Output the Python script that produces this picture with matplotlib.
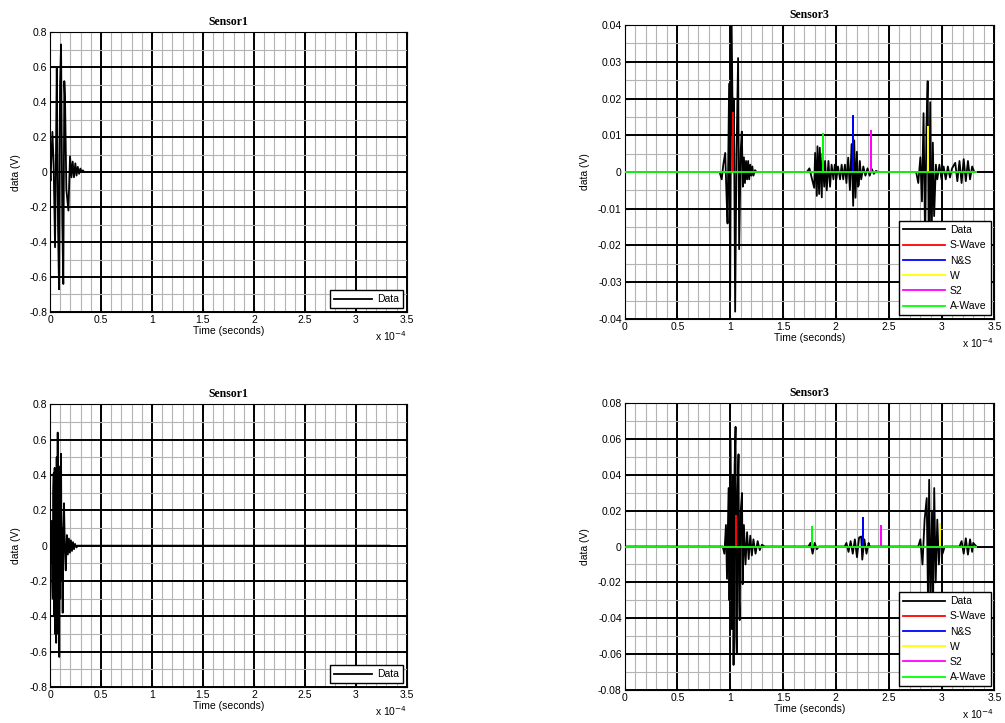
import numpy as np
import matplotlib.pyplot as plt
from matplotlib.ticker import MultipleLocator, FormatStrFormatter
plt.switch_backend('agg')

plt.rcParams['font.family'] = ['Liberation Sans', 'DejaVu Sans']
plt.rcParams['font.size'] = 7.5

# time axis is in units of 1e-4 s, values in volts
t_end = 3.33

# Sensor1, first run
s1a_t = [0, 0.005, 0.023, 0.035, 0.049, 0.058, 0.066, 0.078, 0.088, 0.098, 0.108, 0.12,
         0.13, 0.14, 0.147, 0.16, 0.18, 0.196, 0.21, 0.222, 0.235, 0.248, 0.26, 0.272,
         0.285, 0.298, 0.31, 0.322, 0.335, t_end]
s1a_v = [0, -0.05, 0.23, 0.05, -0.43, 0.1, 0.6, -0.3, -0.67, 0.5, 0.73, -0.27,
         -0.64, 0.52, 0.42, -0.1, -0.22, 0.09, -0.03, 0.06, -0.03, 0.05, -0.02, 0.03,
         -0.01, 0.02, 0.0, 0.01, 0.0, 0.0]

# Sensor1, second run
s1b_t = [0, 0.005, 0.01, 0.016, 0.021, 0.026, 0.031, 0.036, 0.041, 0.045, 0.05, 0.055,
         0.06, 0.065, 0.07, 0.075, 0.08, 0.085, 0.09, 0.095, 0.1, 0.104, 0.108, 0.113,
         0.118, 0.124, 0.13, 0.137, 0.145, 0.154, 0.165, 0.175, 0.185, 0.195, 0.205,
         0.215, 0.225, 0.235, 0.245, 0.26, 0.27, t_end]
s1b_v = [0, -0.1, 0.12, 0.14, -0.2, -0.3, 0.3, 0.41, -0.4, 0.44, -0.5, 0.3,
         -0.55, 0.5, -0.35, 0.64, -0.5, 0.45, -0.63, 0.3, -0.3, 0.35, 0.52, -0.2,
         0.1, -0.38, 0.1, 0.24, -0.02, -0.14, 0.06, -0.05, 0.04, -0.04, 0.03,
         -0.03, 0.02, -0.02, 0.01, -0.01, 0, 0]

# Sensor3, first run
s3a_t = [0, 0.9, 0.92, 0.935, 0.953, 0.965, 0.975, 0.99, 1.0, 1.012, 1.025, 1.035,
         1.047, 1.06, 1.075, 1.085, 1.1, 1.11, 1.12, 1.13, 1.14, 1.15, 1.16, 1.17,
         1.18, 1.19, 1.2, 1.21, 1.22, 1.235, 1.25,
         1.726, 1.75, 1.775, 1.795, 1.804, 1.82, 1.826, 1.842, 1.848, 1.867, 1.873,
         1.89, 1.898, 1.914, 1.93, 1.945, 1.96, 1.977, 1.99, 2.005, 2.02, 2.04, 2.055,
         2.07, 2.086, 2.1, 2.117, 2.133, 2.149, 2.164, 2.174, 2.186, 2.199, 2.21, 2.218,
         2.227, 2.24, 2.26, 2.28, 2.3, 2.32, 2.34, 2.36, 2.38, 2.4,
         2.76, 2.78, 2.8, 2.815, 2.83, 2.845, 2.857, 2.869, 2.88, 2.893, 2.905, 2.918,
         2.93, 2.947, 2.96, 2.98, 3.0, 3.02, 3.04, 3.06, 3.08, 3.1, 3.13, 3.15, 3.17,
         3.19, 3.21, 3.23, 3.25, 3.27, 3.29, 3.31, t_end]
s3a_v = [0, 0, -0.002, 0.002, 0.0052, -0.006, -0.014, 0.024, -0.034, 0.045, 0.01, 0.02,
         -0.038, 0.005, 0.031, -0.021, 0.006, 0.011, -0.004, 0.004, -0.003, 0.003, -0.002, 0.003,
         -0.002, 0.002, -0.001, 0.0015, -0.001, 0.0005, 0,
         0, 0.001, -0.002, -0.0043, 0.0052, -0.0065, 0.007, -0.006, 0.0066, -0.0069, 0.005,
         -0.004, 0.003, -0.005, 0.003, -0.004, 0.002, -0.002, 0.002, -0.002, 0.0015, -0.002, 0.002,
         -0.002, 0.002, -0.003, 0.0039, -0.0049, 0.0076, -0.0092, 0.0086, -0.007, 0.0055, -0.004, -0.0035,
         0.003, -0.002, 0.0015, -0.001, 0.001, -0.001, 0.0008, -0.0005, 0.0003, 0,
         0, -0.003, 0.004, -0.008, 0.016, -0.02, 0.012, 0.0247, -0.025, 0.019, -0.022, 0.008,
         -0.012, 0.002, -0.002, 0.002, -0.002, 0.0015, -0.002, 0.0015, -0.0015, 0.001, 0.0025, -0.0025,
         0.003, -0.003, 0.0035, -0.0025, 0.003, -0.002, 0.0015, 0, 0]

# Sensor3, second run
s3b_t = [0, 0.93, 0.945, 0.96, 0.97, 0.985, 0.993, 1.004, 1.015, 1.025, 1.032, 1.042,
         1.051, 1.057, 1.063, 1.07, 1.079, 1.085, 1.09, 1.1, 1.112, 1.118, 1.13, 1.145,
         1.16, 1.175, 1.19, 1.205, 1.22, 1.24, 1.26, 1.28, 1.3, 1.326,
         1.74, 1.76, 1.78, 1.8, 1.82, 1.84,
         2.084, 2.1, 2.12, 2.14, 2.16, 2.18, 2.2, 2.22, 2.24, 2.25, 2.27, 2.29, 2.31, 2.32,
         2.78, 2.8, 2.82, 2.84, 2.86, 2.872, 2.883, 2.895, 2.91, 2.92, 2.931, 2.945,
         2.96, 2.975, 2.99, 3.01, 3.03,
         3.17, 3.19, 3.21, 3.23, 3.25, 3.27, 3.29, 3.3, t_end]
s3b_v = [0, 0, -0.004, 0.012, -0.018, 0.0326, -0.03, 0.0598, -0.046, 0.04, -0.066, 0.045,
         0.0667, -0.05, -0.06, 0.03, 0.0514, -0.03, -0.041, 0.02, 0.0298, -0.021, 0.012, -0.01,
         0.008, -0.007, 0.006, -0.005, 0.004, -0.004, 0.003, -0.002, 0.001, 0,
         0, 0.002, -0.004, 0.002, -0.0015, 0,
         0, 0.002, -0.003, 0.003, -0.004, 0.004, -0.006, 0.005, 0.0056, -0.0073, 0.004, -0.004, 0.002, 0,
         0, 0.004, -0.01, 0.015, 0.027, -0.03, 0.0372, -0.035, 0.02, -0.033, 0.0326, -0.02,
         0.015, -0.01, 0.006, -0.004, 0,
         0, 0.003, -0.004, 0.0046, -0.0045, 0.004, -0.003, 0.002, 0]

# arrival markers: S-Wave, N&S, W, S2, A-Wave
mark_names = ['S-Wave', 'N&S', 'W', 'S2', 'A-Wave']
mark_colors = ['#ff0000', '#0000ff', '#ffff00', '#ff00ff', '#00ff00']
s3a_mark_t = [1.031, 2.167, 2.869, 2.33, 1.88]
s3a_mark_v = [0.0161, 0.0152, 0.0122, 0.0111, 0.0103]
s3b_mark_t = [1.051, 2.255, 2.99, 2.425, 1.771]
s3b_mark_v = [0.0168, 0.0158, 0.0125, 0.0117, 0.0106]


def style_axes(ax, ylim, ymajor, yminor, title):
    ax.set_xlim(0, 3.5)
    ax.set_ylim(*ylim)
    ax.xaxis.set_major_locator(MultipleLocator(0.5))
    ax.xaxis.set_minor_locator(MultipleLocator(0.1))
    ax.xaxis.set_major_formatter(FormatStrFormatter('%g'))
    ax.yaxis.set_major_locator(MultipleLocator(ymajor))
    ax.yaxis.set_minor_locator(MultipleLocator(yminor))
    ax.yaxis.set_major_formatter(FormatStrFormatter('%g'))
    ax.grid(which='minor', color='#b4b4b4', lw=0.8, zorder=0)
    ax.grid(which='major', color='k', lw=1.4, zorder=0)
    ax.set_axisbelow(True)
    ax.tick_params(which='both', direction='in', top=True, right=True, length=3, pad=2)
    ax.tick_params(which='minor', length=0)
    for sp in ax.spines.values():
        sp.set_linewidth(0.8)
    ax.set_title(title, fontsize=8.5, fontweight='bold',
                 family=['Liberation Serif', 'DejaVu Serif'], pad=5)
    ax.set_xlabel('Time (seconds)', labelpad=1)
    ax.set_ylabel('data (V)', labelpad=6)
    ax.text(1.0, -0.06, r'x 10$^{-4}$', transform=ax.transAxes, ha='right', va='top')


def sensor3(ax, t, v, mark_t, mark_v, ylim, ymajor, yminor):
    ax.plot(t, v, color='k', lw=1.3, label='Data', zorder=3)
    for name, c, mt, mv in zip(mark_names, mark_colors, mark_t, mark_v):
        ax.plot([0, mt, mt, mt, t_end], [0, 0, mv, 0, 0], color=c, lw=1.3,
                label=name, zorder=4)
    style_axes(ax, ylim, ymajor, yminor, 'Sensor3')
    ax.legend(loc='lower right', fancybox=False, edgecolor='k', framealpha=1,
              handlelength=4.0, borderaxespad=0.35, labelspacing=0.5,
              borderpad=0.4, handletextpad=0.5)


fig = plt.figure(figsize=(10.05, 7.23), dpi=100)
ax1 = fig.add_axes([0.0498, 0.5685, 0.355, 0.387])
ax2 = fig.add_axes([0.6214, 0.5588, 0.368, 0.4066])
ax3 = fig.add_axes([0.0498, 0.0498, 0.355, 0.391])
ax4 = fig.add_axes([0.6214, 0.0456, 0.368, 0.397])

for ax, t, v in [(ax1, s1a_t, s1a_v), (ax3, s1b_t, s1b_v)]:
    ax.plot(t, v, color='k', lw=1.3, label='Data', zorder=3)
    style_axes(ax, (-0.8, 0.8), 0.2, 0.1, 'Sensor1')
    ax.legend(loc='lower right', fancybox=False, edgecolor='k', framealpha=1,
              handlelength=3.6, borderaxespad=0.35, borderpad=0.4, handletextpad=0.5)

sensor3(ax2, s3a_t, s3a_v, s3a_mark_t, s3a_mark_v, (-0.04, 0.04), 0.01, 0.005)
sensor3(ax4, s3b_t, s3b_v, s3b_mark_t, s3b_mark_v, (-0.08, 0.08), 0.02, 0.01)

fig.savefig('out.png', dpi=100)
plt.close()
